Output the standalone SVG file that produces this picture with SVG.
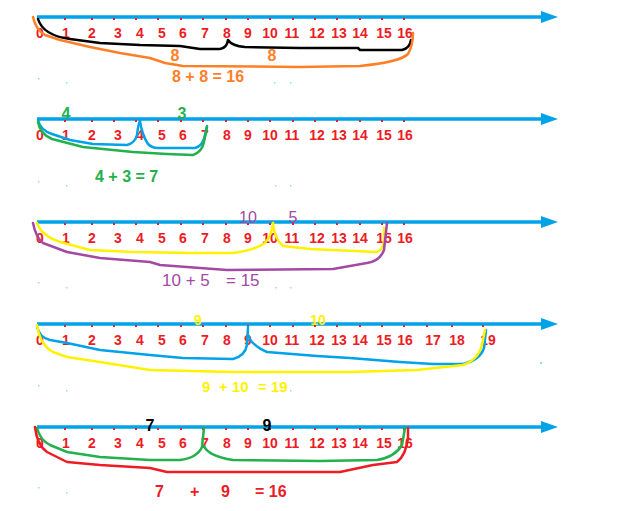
<svg xmlns="http://www.w3.org/2000/svg" xmlns:xlink="http://www.w3.org/1999/xlink" width="628" height="511" viewBox="0 0 628 511">
<style>
.ax{stroke:#00A2E8;stroke-width:3.5;fill:none}
.ah{fill:#00A2E8}
.tk{fill:#ED1C24}
.n{font-family:"Liberation Sans",Arial,sans-serif;font-weight:bold;font-size:14px;fill:#ED1C24;text-anchor:middle}
.b{fill:none;stroke-width:2.5;stroke-linecap:round;stroke-linejoin:round}
.t{font-family:"Liberation Sans",Arial,sans-serif;font-weight:bold;font-size:16px}
.dot{fill:#99D9EA}
</style>
<defs>
<g id="axis">
<line class="ax" x1="37" y1="0" x2="545" y2="0"/>
<polygon class="ah" points="541,-6 558,0 541,6"/>
<g class="tk">
<rect x="64" y="1" width="2" height="2"/><rect x="91" y="1" width="2" height="2"/><rect x="113" y="1" width="2" height="2"/><rect x="135" y="1" width="2" height="2"/><rect x="157" y="1" width="2" height="2"/><rect x="180" y="1" width="2" height="2"/><rect x="202" y="1" width="2" height="2"/><rect x="225" y="1" width="2" height="2"/><rect x="247" y="1" width="2" height="2"/><rect x="269" y="1" width="2" height="2"/><rect x="292" y="1" width="2" height="2"/><rect x="314" y="1" width="2" height="2"/><rect x="336" y="1" width="2" height="2"/><rect x="359" y="1" width="2" height="2"/><rect x="381" y="1" width="2" height="2"/><rect x="403" y="1" width="2" height="2"/>
</g>
<text class="n" y="21"><tspan x="40">0</tspan><tspan x="66">1</tspan><tspan x="92">2</tspan><tspan x="118">3</tspan><tspan x="140">4</tspan><tspan x="162">5</tspan><tspan x="183">6</tspan><tspan x="205">7</tspan><tspan x="227">8</tspan><tspan x="248">9</tspan><tspan x="270">10</tspan><tspan x="292">11</tspan><tspan x="317">12</tspan><tspan x="339">13</tspan><tspan x="360">14</tspan><tspan x="384">15</tspan><tspan x="405">16</tspan></text>
</g>
</defs>

<g id="line1">
<use xlink:href="#axis" transform="translate(0,17)"/>
<path class="b" stroke="#000" d="M38,19 C42,32 55,37 70,39 L100,43 L140,45 L180,46 L200,49 L220,49 Q227,48 228,40 Q232,46 245,47 L300,48 L358,48 L360,50 L402,50 Q410,48 411,40"/>
<path class="b" stroke="#FF7F27" d="M33,17 Q36,30 45,35 L60,40 L90,47 L120,53 L150,58 L165,63 L183,66 L300,67 L360,66 Q400,62 408,54 Q413,45 413,33"/>
<text class="t" fill="#FF7F27" x="175" y="61" text-anchor="middle">8</text>
<text class="t" fill="#FF7F27" x="272" y="61" text-anchor="middle">8</text>
<text class="t" fill="#FF7F27" x="172" y="82">8 + 8 = 16</text>
</g>

<g id="line2">
<use xlink:href="#axis" transform="translate(0,119)"/>
<path class="b" stroke="#00A2E8" d="M38,120 Q40,130 52,134 L70,140 L93,144 L127,145 Q135,143 137,135 Q138,125 140,121"/>
<path class="b" stroke="#00A2E8" d="M140,121 Q142,135 148,144 Q152,148 158,148 L195,148 Q203,146 205,135 L207,126"/>
<path class="b" stroke="#22B14C" d="M38,122 Q40,134 52,139 L83,147 L133,152 L167,154 L193,155 Q202,152 204,142 L207,127"/>
<text class="t" fill="#22B14C" x="66" y="119" text-anchor="middle">4</text>
<text class="t" fill="#22B14C" x="182" y="119" text-anchor="middle">3</text>
<text class="t" fill="#22B14C" x="95" y="182">4 + 3 = 7</text>
</g>

<g id="line3">
<use xlink:href="#axis" transform="translate(0,222)"/>
<path class="b" stroke="#FFF200" d="M37,223 Q42,236 60,242 L90,250 L133,252 L193,253 L233,253 Q255,250 265,243 Q272,235 273,223"/>
<path class="b" stroke="#FFF200" d="M273,223 Q274,238 283,246 L310,249 L377,252 Q383,250 384,240 L384,228"/>
<path class="b" stroke="#A349A4" d="M33,223 Q36,238 43,243 L67,252 L100,258 L150,262 L160,265 L227,270 L333,269 L367,263 Q380,261 384,250 L387,223"/>
<text fill="#A349A4" font-family="Liberation Sans, Arial, sans-serif" font-size="16" x="248" y="223" text-anchor="middle">10</text>
<text fill="#A349A4" font-family="Liberation Sans, Arial, sans-serif" font-size="16" x="293" y="223" text-anchor="middle">5</text>
<text fill="#A349A4" font-family="Liberation Sans, Arial, sans-serif" font-size="17" y="286"><tspan x="162">10 + 5</tspan><tspan x="226">= 15</tspan></text>
</g>

<g id="line4">
<use xlink:href="#axis" transform="translate(0,324)"/>
<rect class="tk" x="426" y="325" width="2" height="2"/><rect class="tk" x="451" y="325" width="2" height="2"/><rect class="tk" x="482" y="325" width="2" height="2"/>
<text class="n" y="345"><tspan x="433">17</tspan><tspan x="457">18</tspan><tspan x="488">19</tspan></text>
<path class="b" stroke="#00A2E8" d="M37,327 Q40,338 50,340 L67,343 L100,350 L150,355 L183,358 L233,359 Q245,356 247,345 L248,327"/>
<path class="b" stroke="#00A2E8" d="M248,335 Q251,345 267,352 L317,356 L350,358 L400,362 L433,364 L463,364 Q480,360 484,348 L486,330"/>
<path class="b" stroke="#FFF200" d="M37,325 Q40,345 53,352 L67,357 L100,362 L150,370 L233,372 L350,372 L417,370 L463,365 Q478,360 482,345 L485,330"/>
<text class="t" fill="#FFF200" x="198" y="325" text-anchor="middle" style="font-size:14px">9</text>
<text class="t" fill="#FFF200" x="318" y="325" text-anchor="middle" style="font-size:14px">10</text>
<text class="t" fill="#FFF200" y="392" style="font-size:15px"><tspan x="202">9</tspan><tspan x="219">+ 10</tspan><tspan x="258">= 19</tspan></text>
<rect class="dot" x="540" y="362" width="2" height="2"/>
</g>

<g id="line5">
<use xlink:href="#axis" transform="translate(0,427)"/>
<path class="b" stroke="#22B14C" d="M37,428 Q40,440 50,445 L67,452 L100,457 L150,460 L180,460 Q197,458 202,447 L204,428"/>
<path class="b" stroke="#22B14C" d="M204,446 Q208,456 233,460 L320,461 L377,460 Q395,457 402,445 L405,428"/>
<path class="b" stroke="#ED1C24" d="M35,427 Q37,445 47,452 L67,462 L100,465 L150,468 L167,472 L340,472 L373,465 L397,462 Q406,455 408,438 L408,428"/>
<text class="t" fill="#000" x="150" y="431" text-anchor="middle">7</text>
<text class="t" fill="#000" x="267" y="431" text-anchor="middle">9</text>
<text class="t" fill="#ED1C24" y="497"><tspan x="155">7</tspan><tspan x="190">+</tspan><tspan x="221">9</tspan><tspan x="255">= 16</tspan></text>
</g>

<g id="dots" class="dot">
<rect x="38" y="78" width="1.5" height="1.5"/><rect x="66" y="82" width="1.5" height="1.5"/><rect x="274" y="82" width="1.5" height="1.5"/><rect x="290" y="82" width="1.5" height="1.5"/>
<rect x="38" y="181" width="1.5" height="1.5"/><rect x="66" y="185" width="1.5" height="1.5"/><rect x="275" y="185" width="1.5" height="1.5"/><rect x="290" y="185" width="1.5" height="1.5"/>
<rect x="38" y="282" width="1.5" height="1.5"/><rect x="66" y="287" width="1.5" height="1.5"/><rect x="275" y="287" width="1.5" height="1.5"/><rect x="290" y="287" width="1.5" height="1.5"/>
<rect x="38" y="385" width="1.5" height="1.5"/><rect x="66" y="390" width="1.5" height="1.5"/><rect x="290" y="390" width="1.5" height="1.5"/>
<rect x="38" y="487" width="1.5" height="1.5"/><rect x="66" y="492" width="1.5" height="1.5"/>
</g>
</svg>
